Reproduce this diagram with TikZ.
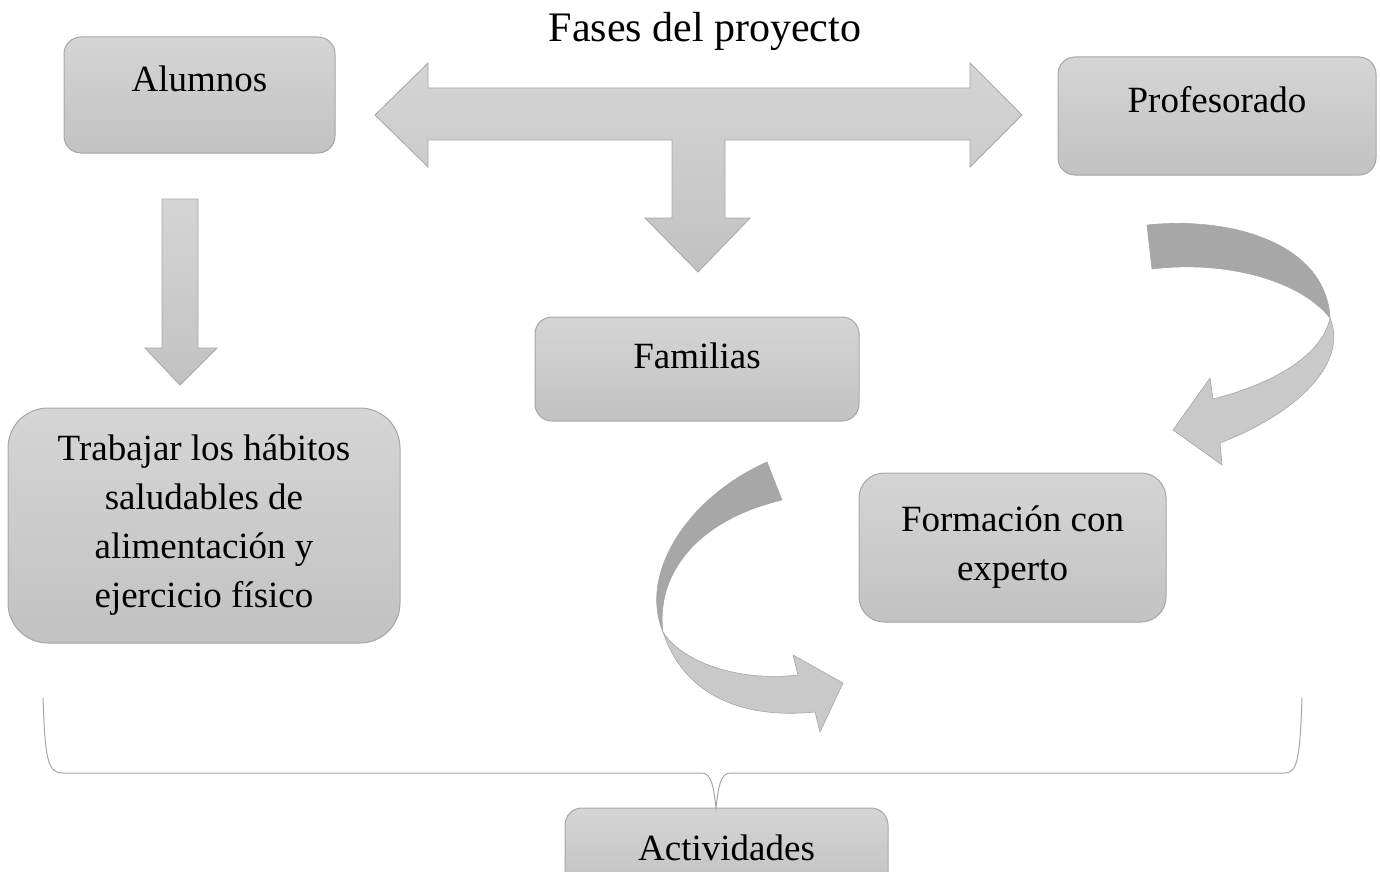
\documentclass[tikz,border=0pt]{standalone}
\usepackage{fontspec}
\setmainfont{Liberation Serif}
\usetikzlibrary{arrows}

\definecolor{cajaA}{HTML}{D5D5D5}
\definecolor{cajaB}{HTML}{C2C2C2}
\definecolor{borde}{HTML}{A6A6A6}
\definecolor{grisO}{HTML}{A7A7A7}
\definecolor{grisC}{HTML}{C9C9C9}

\begin{document}
\begin{tikzpicture}[x=1pt,y=-1pt,
    caja/.style={draw=borde,line width=1pt,rounded corners=17pt,top color=cajaA,
      bottom color=cajaB,inner sep=0pt,align=center,font=\fontsize{37}{49}\selectfont},
    flecha/.style={draw=borde,line width=0.8pt,top color=cajaA,bottom color=cajaB},
    oscura/.style={draw=borde,line width=0.6pt,fill=grisO},
    clara/.style={draw=borde,line width=0.6pt,fill=grisC},
    llave/.style={draw=borde,line width=1pt}]
  \useasboundingbox (0,0) rectangle (1381,872);
  \clip (0,0) rectangle (1381,872);

  % cajas
  \node[font=\fontsize{42}{50}\selectfont,anchor=base] (titulo) at (705,42) {Fases del proyecto};
  \node[caja,minimum width=271pt,text height=55pt,text depth=61pt] (alumnos) at (199.5,95) {Alumnos};
  \node[caja,minimum width=318pt,text height=56pt,text depth=62pt] (profesorado) at (1217,116) {Profesorado};
  \node[caja,minimum width=324pt,text height=51pt,text depth=53pt] (familias) at (697,369) {Familias};
  \node[caja,minimum width=392pt,minimum height=235pt,rounded corners=40pt] (habitos) at (204,525.5)
    {Trabajar los h\'abitos\\saludables de\\alimentaci\'on y\\ejercicio f\'isico};
  \node[caja,minimum width=307pt,minimum height=149pt,rounded corners=25pt] (formacion) at (1012.5,547.5)
    {Formaci\'on con\\experto};
  \node[caja,minimum width=323pt,text height=52pt,text depth=30pt] (actividades) at (726.5,849) {Actividades};

  % flechas rectas
  \path[flecha] (375,115) -- (428,63) -- (428,88) -- (970,88) -- (970,63) -- (1022,115)
    -- (970,167) -- (970,140) -- (725,140) -- (725,218) -- (750,218) -- (698,272)
    -- (645,218) -- (672,218) -- (672,140) -- (428,140) -- (428,167) -- cycle;
  \path[flecha] (162,199) -- (198,199) -- (198,348) -- (217,348) -- (180,385)
    -- (145,348) -- (162,348) -- cycle;

  % flecha curva derecha
  \coordinate (giroA) at (1330,318);
  \path[oscura] (1147,225) .. controls (1235,216) and (1326,245) .. (giroA)
    .. controls (1300,280) and (1225,260) .. (1152,269) -- cycle;
  \path[clara] (giroA) .. controls (1348,362) and (1300,412) .. (1220,443) -- (1222,465)
    -- (1173,430) -- (1210,378) -- (1213,399) .. controls (1272,384) and (1322,356) .. (giroA);

  % flecha curva izquierda
  \coordinate (giroB) at (663,632);
  \path[oscura] (767,462) .. controls (690,496) and (638,572) .. (giroB)
    .. controls (656,580) and (690,522) .. (782,500) -- cycle;
  \path[clara] (giroB) .. controls (682,690) and (735,720) .. (815,712) -- (820,732)
    -- (843,683) -- (793,655) -- (798,675) .. controls (738,682) and (682,662) .. (giroB);

  % llave
  \coordinate (pico) at (716,808);
  \draw[llave] (43,698) .. controls (45,755) and (47,773) .. (62,773) -- (702,773)
    .. controls (712,773) and (714,790) .. (pico)
    .. controls (718,790) and (720,773) .. (730,773) -- (1285,773)
    .. controls (1298,773) and (1300,755) .. (1302,698);
\end{tikzpicture}
\end{document}
